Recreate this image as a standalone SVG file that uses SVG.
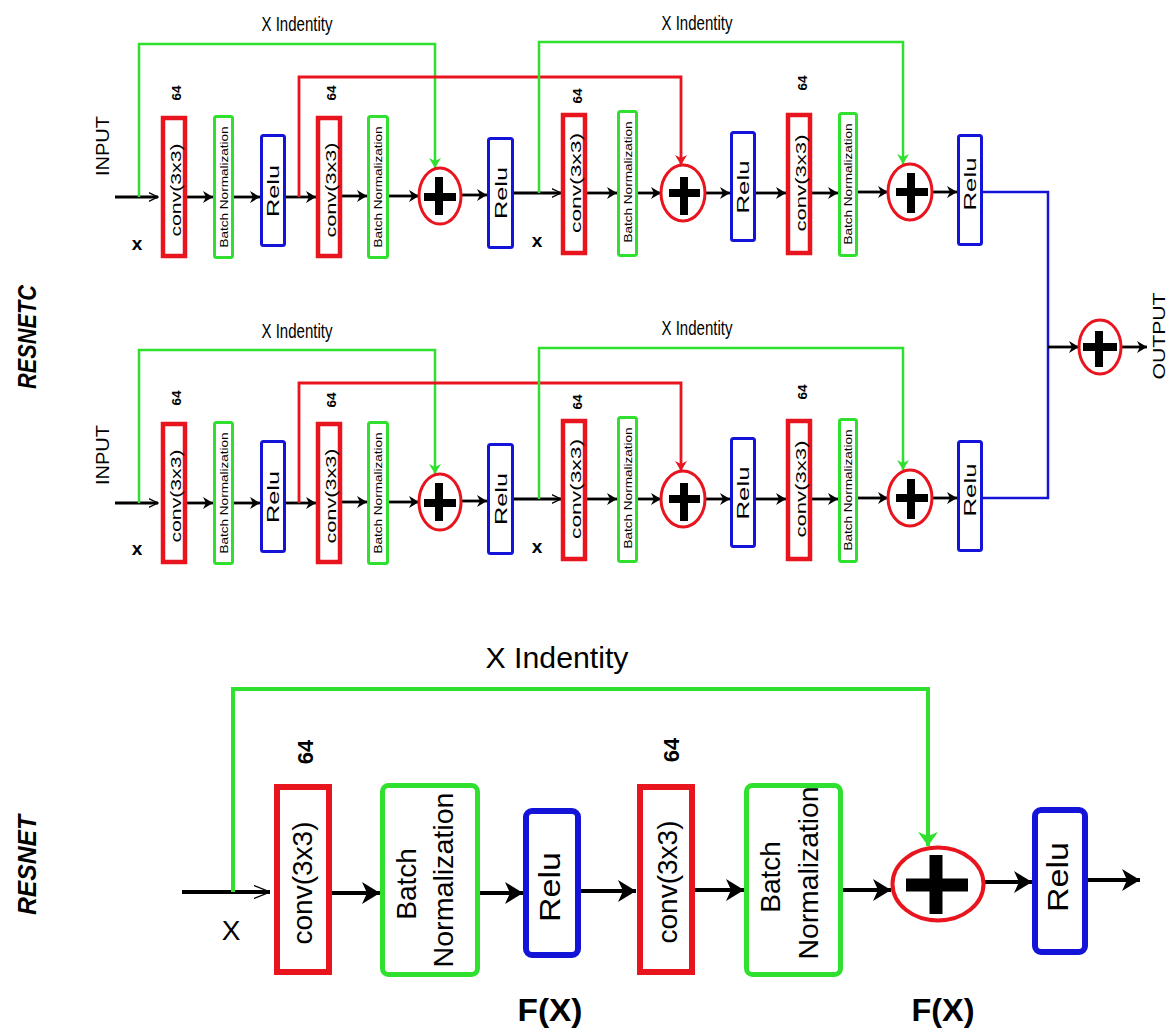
<svg xmlns="http://www.w3.org/2000/svg" width="1173" height="1028" viewBox="0 0 1173 1028">
  <defs>
    <style>
      text{font-family:"Liberation Sans",Arial,Helvetica,sans-serif;fill:#000}
      .v{text-anchor:middle;dominant-baseline:central}
      .c{text-anchor:middle}
      .b{font-weight:bold}
      .conv{fill:#fff;stroke:#e8141e;stroke-width:4.5}
      .bn{fill:#fff;stroke:#2fe02f;stroke-width:3}
      .relu{fill:#fff;stroke:#1414d8;stroke-width:3}
      .add{fill:#fff;stroke:#e8141e;stroke-width:3}
      .plus{stroke:#000;stroke-width:8;fill:none}
      .wire{fill:none;stroke:#000;stroke-width:2.8}
      .skipG{fill:none;stroke:#2fe02f;stroke-width:2.5}
      .skipR{fill:none;stroke:#e8141e;stroke-width:2.8}
      .merge{fill:none;stroke:#1414d8;stroke-width:2.5}
      .convL{fill:#fff;stroke:#e8141e;stroke-width:6}
      .bnL{fill:#fff;stroke:#2fe02f;stroke-width:5}
      .reluL{fill:#fff;stroke:#1414d8;stroke-width:6}
      .addL{fill:#fff;stroke:#e8141e;stroke-width:4}
      .plusL{stroke:#000;stroke-width:13;fill:none}
      .wireL{fill:none;stroke:#000;stroke-width:4}
      .skipGL{fill:none;stroke:#2fe02f;stroke-width:4}
    </style>
    <marker id="ah" viewBox="0 0 10 12" refX="10" refY="6" markerWidth="10" markerHeight="13" markerUnits="userSpaceOnUse" orient="auto">
      <path d="M0,0 L10,6 L0,12 L3,6 z" fill="#000"/>
    </marker>
    <marker id="ahG" viewBox="0 0 10 12" refX="10" refY="6" markerWidth="10" markerHeight="12" markerUnits="userSpaceOnUse" orient="auto">
      <path d="M0,0 L10,6 L0,12 L3,6 z" fill="#2fe02f"/>
    </marker>
    <marker id="ahR" viewBox="0 0 10 12" refX="10" refY="6" markerWidth="10" markerHeight="12" markerUnits="userSpaceOnUse" orient="auto">
      <path d="M0,0 L10,6 L0,12 L3,6 z" fill="#e8141e"/>
    </marker>
    <marker id="ahThin" viewBox="0 0 10 10" refX="9.5" refY="5" markerWidth="10" markerHeight="10" markerUnits="userSpaceOnUse" orient="auto">
      <path d="M0,0.5 L9.5,5 L0,9.5" fill="none" stroke="#000" stroke-width="1.2"/>
    </marker>
    <marker id="ahL" viewBox="0 0 18 22" refX="18" refY="11" markerWidth="18" markerHeight="22" markerUnits="userSpaceOnUse" orient="auto">
      <path d="M0,0 L18,11 L0,22 L5,11 z" fill="#000"/>
    </marker>
    <marker id="ahGL" viewBox="0 0 14 20" refX="14" refY="10" markerWidth="14" markerHeight="20" markerUnits="userSpaceOnUse" orient="auto">
      <path d="M0,0 L14,10 L0,20 L4,10 z" fill="#2fe02f"/>
    </marker>
    <marker id="ahThinL" viewBox="0 0 16 14" refX="16" refY="7" markerWidth="16" markerHeight="14" markerUnits="userSpaceOnUse" orient="auto">
      <path d="M0,0.5 L16,7 L0,13.5" fill="none" stroke="#000" stroke-width="1.3"/>
    </marker>
  </defs>

  <rect width="1173" height="1028" fill="#fff"/>

  <!-- side titles -->
  <text class="v b" font-style="italic" font-size="26" transform="translate(27,337) rotate(-90)" textLength="104" lengthAdjust="spacingAndGlyphs">RESNETC</text>
  <text class="v b" font-style="italic" font-size="26" transform="translate(27,865) rotate(-90)" textLength="100" lengthAdjust="spacingAndGlyphs">RESNET</text>

  <!-- ===== connectors ===== -->
  <g id="connectors">
    <!-- upper chain -->
    <path class="wire" d="M115,197 H158" marker-end="url(#ahThin)"/>
    <path class="wire" d="M187,197 H213" marker-end="url(#ah)"/>
    <path class="wire" d="M234,197 H260" marker-end="url(#ah)"/>
    <path class="wire" d="M286,197 H316" marker-end="url(#ah)"/>
    <path class="wire" d="M342,196 H367" marker-end="url(#ah)"/>
    <path class="wire" d="M389,196 H419" marker-end="url(#ah)"/>
    <path class="wire" d="M461,195 H487" marker-end="url(#ah)"/>
    <path class="wire" d="M514,193 H561" marker-end="url(#ahThin)"/>
    <path class="wire" d="M587,193 H617" marker-end="url(#ah)"/>
    <path class="wire" d="M638,193 H661" marker-end="url(#ah)"/>
    <path class="wire" d="M705,193 H730" marker-end="url(#ah)"/>
    <path class="wire" d="M756,193 H786" marker-end="url(#ah)"/>
    <path class="wire" d="M812,193 H838" marker-end="url(#ah)"/>
    <path class="wire" d="M858,192 H888" marker-end="url(#ah)"/>
    <path class="wire" d="M932,192 H957" marker-end="url(#ah)"/>
    <path class="skipG" d="M139,197 V44 H435 V168" marker-end="url(#ahG)"/>
    <path class="skipR" d="M299,197 V77 H681 V165" marker-end="url(#ahR)"/>
    <path class="skipG" d="M539,193 V42 H903 V164" marker-end="url(#ahG)"/>

    <!-- lower chain -->
    <path class="wire" d="M115,503 H158" marker-end="url(#ahThin)"/>
    <path class="wire" d="M187,503 H213" marker-end="url(#ah)"/>
    <path class="wire" d="M234,503 H260" marker-end="url(#ah)"/>
    <path class="wire" d="M286,503 H316" marker-end="url(#ah)"/>
    <path class="wire" d="M342,502 H367" marker-end="url(#ah)"/>
    <path class="wire" d="M389,502 H419" marker-end="url(#ah)"/>
    <path class="wire" d="M461,501 H487" marker-end="url(#ah)"/>
    <path class="wire" d="M514,499 H561" marker-end="url(#ahThin)"/>
    <path class="wire" d="M587,499 H617" marker-end="url(#ah)"/>
    <path class="wire" d="M638,499 H661" marker-end="url(#ah)"/>
    <path class="wire" d="M705,499 H730" marker-end="url(#ah)"/>
    <path class="wire" d="M756,499 H786" marker-end="url(#ah)"/>
    <path class="wire" d="M812,499 H838" marker-end="url(#ah)"/>
    <path class="wire" d="M858,498 H888" marker-end="url(#ah)"/>
    <path class="wire" d="M932,498 H957" marker-end="url(#ah)"/>
    <path class="skipG" d="M139,503 V350 H435 V474" marker-end="url(#ahG)"/>
    <path class="skipR" d="M299,503 V383 H681 V471" marker-end="url(#ahR)"/>
    <path class="skipG" d="M539,499 V348 H903 V470" marker-end="url(#ahG)"/>

    <!-- merge of both chains -->
    <path class="merge" d="M983,192 H1048 V498 H983"/>
    <path class="wire" d="M1048,347 H1079" marker-end="url(#ah)"/>
    <path class="wire" d="M1121,347 H1147" marker-end="url(#ah)"/>

    <!-- single residual block -->
    <path class="wireL" d="M182,892 H270" stroke-width="3.5" marker-end="url(#ahThinL)"/>
    <path class="skipGL" d="M233,892 V689 H928 V846" marker-end="url(#ahGL)"/>
    <path class="wireL" d="M332,893 H380" marker-end="url(#ahL)"/>
    <path class="wireL" d="M480,893 H523" marker-end="url(#ahL)"/>
    <path class="wireL" d="M581,891 H636" marker-end="url(#ahL)"/>
    <path class="wireL" d="M695,890 H744" marker-end="url(#ahL)"/>
    <path class="wireL" d="M843,890 H891" marker-end="url(#ahL)"/>
    <path class="wireL" d="M984,882 H1032" marker-end="url(#ahL)"/>
    <path class="wireL" d="M1088,880 H1140" marker-end="url(#ahL)"/>
  </g>

  <!-- connector labels -->
  <text font-size="21" class="c" x="297" y="31" textLength="71" lengthAdjust="spacingAndGlyphs">X Indentity</text>
  <text font-size="21" class="c" x="697" y="30" textLength="71" lengthAdjust="spacingAndGlyphs">X Indentity</text>
  <text font-size="21" class="c" x="297" y="338" textLength="71" lengthAdjust="spacingAndGlyphs">X Indentity</text>
  <text font-size="21" class="c" x="697" y="335" textLength="71" lengthAdjust="spacingAndGlyphs">X Indentity</text>
  <text font-size="29" class="c" x="557" y="668" textLength="143" lengthAdjust="spacingAndGlyphs">X Indentity</text>
  <text class="v" font-size="18" transform="translate(103,146) rotate(-90)" textLength="60" lengthAdjust="spacingAndGlyphs">INPUT</text>
  <text class="v" font-size="18" transform="translate(103,455) rotate(-90)" textLength="60" lengthAdjust="spacingAndGlyphs">INPUT</text>
  <text class="c b" font-size="19" x="137" y="250">x</text>
  <text class="c b" font-size="19" x="537" y="247">x</text>
  <text class="c b" font-size="19" x="137" y="555">x</text>
  <text class="c b" font-size="19" x="537" y="553">x</text>
  <text class="v" font-size="17" transform="translate(1159,336) rotate(-90)" textLength="87" lengthAdjust="spacingAndGlyphs">OUTPUT</text>
  <text class="c" font-size="28" x="231" y="940">X</text>
  <text class="c b" font-size="31" x="550" y="1021" textLength="65" lengthAdjust="spacingAndGlyphs">F(X)</text>
  <text class="c b" font-size="31" x="943" y="1021" textLength="63" lengthAdjust="spacingAndGlyphs">F(X)</text>

  <!-- ===== upper chain nodes ===== -->
  <g id="u-conv1">
    <rect class="conv" x="163" y="118" width="22" height="138"/>
    <text class="v b" font-size="13" transform="translate(176,93) rotate(-90)" textLength="15" lengthAdjust="spacingAndGlyphs">64</text>
    <text class="v" font-size="15" transform="translate(175,190) rotate(-90)" textLength="93" lengthAdjust="spacingAndGlyphs">conv(3x3)</text>
  </g>
  <g id="u-bn1">
    <rect class="bn" x="214.5" y="116.5" width="18" height="141" rx="2"/>
    <text class="v" font-size="10" transform="translate(224,187) rotate(-90)" textLength="121" lengthAdjust="spacingAndGlyphs">Batch Normalization</text>
  </g>
  <g id="u-relu1">
    <rect class="relu" x="261.5" y="135.5" width="23" height="110" rx="2"/>
    <text class="v" font-size="17" transform="translate(273,191) rotate(-90)" textLength="52" lengthAdjust="spacingAndGlyphs">Relu</text>
  </g>
  <g id="u-conv2">
    <rect class="conv" x="318" y="118" width="22" height="138"/>
    <text class="v b" font-size="13" transform="translate(331,93) rotate(-90)" textLength="15" lengthAdjust="spacingAndGlyphs">64</text>
    <text class="v" font-size="15" transform="translate(330,190) rotate(-90)" textLength="95" lengthAdjust="spacingAndGlyphs">conv(3x3)</text>
  </g>
  <g id="u-bn2">
    <rect class="bn" x="368.5" y="116.5" width="19" height="141" rx="2"/>
    <text class="v" font-size="10" transform="translate(378,187) rotate(-90)" textLength="121" lengthAdjust="spacingAndGlyphs">Batch Normalization</text>
  </g>
  <g id="u-add1">
    <ellipse class="add" cx="440" cy="196" rx="21" ry="28"/>
    <path class="plus" d="M424,197 H456 M439,177 V215"/>
  </g>
  <g id="u-relu2">
    <rect class="relu" x="488.5" y="138.5" width="24" height="109" rx="2"/>
    <text class="v" font-size="17" transform="translate(501,193) rotate(-90)" textLength="52" lengthAdjust="spacingAndGlyphs">Relu</text>
  </g>
  <g id="u-conv3">
    <rect class="conv" x="563" y="115" width="22" height="138"/>
    <text class="v b" font-size="13" transform="translate(577,96) rotate(-90)" textLength="15" lengthAdjust="spacingAndGlyphs">64</text>
    <text class="v" font-size="15" transform="translate(575,183) rotate(-90)" textLength="100" lengthAdjust="spacingAndGlyphs">conv(3x3)</text>
  </g>
  <g id="u-bn3">
    <rect class="bn" x="618.5" y="111.5" width="18" height="144" rx="2"/>
    <text class="v" font-size="10" transform="translate(628,182) rotate(-90)" textLength="121" lengthAdjust="spacingAndGlyphs">Batch Normalization</text>
  </g>
  <g id="u-add2">
    <ellipse class="add" cx="683" cy="193" rx="22" ry="28"/>
    <path class="plus" d="M669,193 H700 M684,177 V215"/>
  </g>
  <g id="u-relu3">
    <rect class="relu" x="731.5" y="132.5" width="23" height="108" rx="2"/>
    <text class="v" font-size="17" transform="translate(743,187) rotate(-90)" textLength="53" lengthAdjust="spacingAndGlyphs">Relu</text>
  </g>
  <g id="u-conv4">
    <rect class="conv" x="788" y="115" width="22" height="138"/>
    <text class="v b" font-size="13" transform="translate(802,83) rotate(-90)" textLength="15" lengthAdjust="spacingAndGlyphs">64</text>
    <text class="v" font-size="15" transform="translate(800,183) rotate(-90)" textLength="97" lengthAdjust="spacingAndGlyphs">conv(3x3)</text>
  </g>
  <g id="u-bn4">
    <rect class="bn" x="839.5" y="113.5" width="17" height="142" rx="2"/>
    <text class="v" font-size="10" transform="translate(848,184) rotate(-90)" textLength="121" lengthAdjust="spacingAndGlyphs">Batch Normalization</text>
  </g>
  <g id="u-add3">
    <ellipse class="add" cx="910" cy="192" rx="22" ry="28"/>
    <path class="plus" d="M896,192 H928 M911,173 V213"/>
  </g>
  <g id="u-relu4">
    <rect class="relu" x="958.5" y="135.5" width="23" height="109" rx="2"/>
    <text class="v" font-size="17" transform="translate(970,184) rotate(-90)" textLength="53" lengthAdjust="spacingAndGlyphs">Relu</text>
  </g>

  <!-- ===== lower chain nodes ===== -->
  <g id="l-conv1">
    <rect class="conv" x="163" y="424" width="22" height="138"/>
    <text class="v b" font-size="13" transform="translate(176,398) rotate(-90)" textLength="15" lengthAdjust="spacingAndGlyphs">64</text>
    <text class="v" font-size="15" transform="translate(175,496) rotate(-90)" textLength="93" lengthAdjust="spacingAndGlyphs">conv(3x3)</text>
  </g>
  <g id="l-bn1">
    <rect class="bn" x="214.5" y="422.5" width="18" height="141" rx="2"/>
    <text class="v" font-size="10" transform="translate(224,493) rotate(-90)" textLength="121" lengthAdjust="spacingAndGlyphs">Batch Normalization</text>
  </g>
  <g id="l-relu1">
    <rect class="relu" x="261.5" y="441.5" width="23" height="110" rx="2"/>
    <text class="v" font-size="17" transform="translate(273,497) rotate(-90)" textLength="52" lengthAdjust="spacingAndGlyphs">Relu</text>
  </g>
  <g id="l-conv2">
    <rect class="conv" x="318" y="424" width="22" height="138"/>
    <text class="v b" font-size="13" transform="translate(331,400) rotate(-90)" textLength="15" lengthAdjust="spacingAndGlyphs">64</text>
    <text class="v" font-size="15" transform="translate(330,496) rotate(-90)" textLength="95" lengthAdjust="spacingAndGlyphs">conv(3x3)</text>
  </g>
  <g id="l-bn2">
    <rect class="bn" x="368.5" y="422.5" width="19" height="141" rx="2"/>
    <text class="v" font-size="10" transform="translate(378,493) rotate(-90)" textLength="121" lengthAdjust="spacingAndGlyphs">Batch Normalization</text>
  </g>
  <g id="l-add1">
    <ellipse class="add" cx="440" cy="502" rx="21" ry="28"/>
    <path class="plus" d="M424,503 H456 M439,483 V521"/>
  </g>
  <g id="l-relu2">
    <rect class="relu" x="488.5" y="444.5" width="24" height="109" rx="2"/>
    <text class="v" font-size="17" transform="translate(501,499) rotate(-90)" textLength="52" lengthAdjust="spacingAndGlyphs">Relu</text>
  </g>
  <g id="l-conv3">
    <rect class="conv" x="563" y="421" width="22" height="138"/>
    <text class="v b" font-size="13" transform="translate(577,402) rotate(-90)" textLength="15" lengthAdjust="spacingAndGlyphs">64</text>
    <text class="v" font-size="15" transform="translate(575,489) rotate(-90)" textLength="100" lengthAdjust="spacingAndGlyphs">conv(3x3)</text>
  </g>
  <g id="l-bn3">
    <rect class="bn" x="618.5" y="417.5" width="18" height="144" rx="2"/>
    <text class="v" font-size="10" transform="translate(628,488) rotate(-90)" textLength="121" lengthAdjust="spacingAndGlyphs">Batch Normalization</text>
  </g>
  <g id="l-add2">
    <ellipse class="add" cx="683" cy="499" rx="22" ry="28"/>
    <path class="plus" d="M669,499 H700 M684,483 V521"/>
  </g>
  <g id="l-relu3">
    <rect class="relu" x="731.5" y="438.5" width="23" height="108" rx="2"/>
    <text class="v" font-size="17" transform="translate(743,493) rotate(-90)" textLength="53" lengthAdjust="spacingAndGlyphs">Relu</text>
  </g>
  <g id="l-conv4">
    <rect class="conv" x="788" y="421" width="22" height="138"/>
    <text class="v b" font-size="13" transform="translate(802,392) rotate(-90)" textLength="15" lengthAdjust="spacingAndGlyphs">64</text>
    <text class="v" font-size="15" transform="translate(800,489) rotate(-90)" textLength="97" lengthAdjust="spacingAndGlyphs">conv(3x3)</text>
  </g>
  <g id="l-bn4">
    <rect class="bn" x="839.5" y="419.5" width="17" height="142" rx="2"/>
    <text class="v" font-size="10" transform="translate(848,490) rotate(-90)" textLength="121" lengthAdjust="spacingAndGlyphs">Batch Normalization</text>
  </g>
  <g id="l-add3">
    <ellipse class="add" cx="910" cy="498" rx="22" ry="28"/>
    <path class="plus" d="M896,498 H928 M911,479 V519"/>
  </g>
  <g id="l-relu4">
    <rect class="relu" x="958.5" y="441.5" width="23" height="109" rx="2"/>
    <text class="v" font-size="17" transform="translate(970,490) rotate(-90)" textLength="53" lengthAdjust="spacingAndGlyphs">Relu</text>
  </g>

  <!-- merged output -->
  <g id="out-add">
    <ellipse class="add" cx="1100" cy="347" rx="21" ry="27"/>
    <path class="plus" d="M1083,347 H1117 M1099,331 V367"/>
  </g>

  <!-- ===== single residual block ===== -->
  <g id="r-conv1">
    <rect class="convL" x="277" y="787" width="52" height="185"/>
    <text class="v b" font-size="22" transform="translate(305,752) rotate(-90)">64</text>
    <text class="v" font-size="27" transform="translate(303,883) rotate(-90)" textLength="123" lengthAdjust="spacingAndGlyphs">conv(3x3)</text>
  </g>
  <g id="r-bn1">
    <rect class="bnL" x="382.5" y="785.5" width="95" height="189" rx="6"/>
    <text class="v" font-size="28" transform="translate(406,884) rotate(-90)">Batch</text>
    <text class="v" font-size="28" transform="translate(443,880) rotate(-90)" textLength="175" lengthAdjust="spacingAndGlyphs">Normalization</text>
  </g>
  <g id="r-relu1">
    <rect class="reluL" x="526" y="811" width="52" height="144" rx="6"/>
    <text class="v" font-size="30" transform="translate(549,887) rotate(-90)" textLength="70" lengthAdjust="spacingAndGlyphs">Relu</text>
  </g>
  <g id="r-conv2">
    <rect class="convL" x="640" y="787" width="52" height="185"/>
    <text class="v b" font-size="22" transform="translate(671,750) rotate(-90)">64</text>
    <text class="v" font-size="27" transform="translate(668,882) rotate(-90)" textLength="123" lengthAdjust="spacingAndGlyphs">conv(3x3)</text>
  </g>
  <g id="r-bn2">
    <rect class="bnL" x="746.5" y="785.5" width="94" height="189" rx="6"/>
    <text class="v" font-size="28" transform="translate(770,877) rotate(-90)">Batch</text>
    <text class="v" font-size="28" transform="translate(808,873) rotate(-90)" textLength="173" lengthAdjust="spacingAndGlyphs">Normalization</text>
  </g>
  <g id="r-add">
    <ellipse class="addL" cx="938" cy="884" rx="45.5" ry="36.5"/>
    <path class="plusL" d="M906,885 H968 M936,855 V914"/>
  </g>
  <g id="r-relu2">
    <rect class="reluL" x="1035" y="810" width="50" height="142" rx="6"/>
    <text class="v" font-size="30" transform="translate(1057,877) rotate(-90)" textLength="70" lengthAdjust="spacingAndGlyphs">Relu</text>
  </g>
</svg>
